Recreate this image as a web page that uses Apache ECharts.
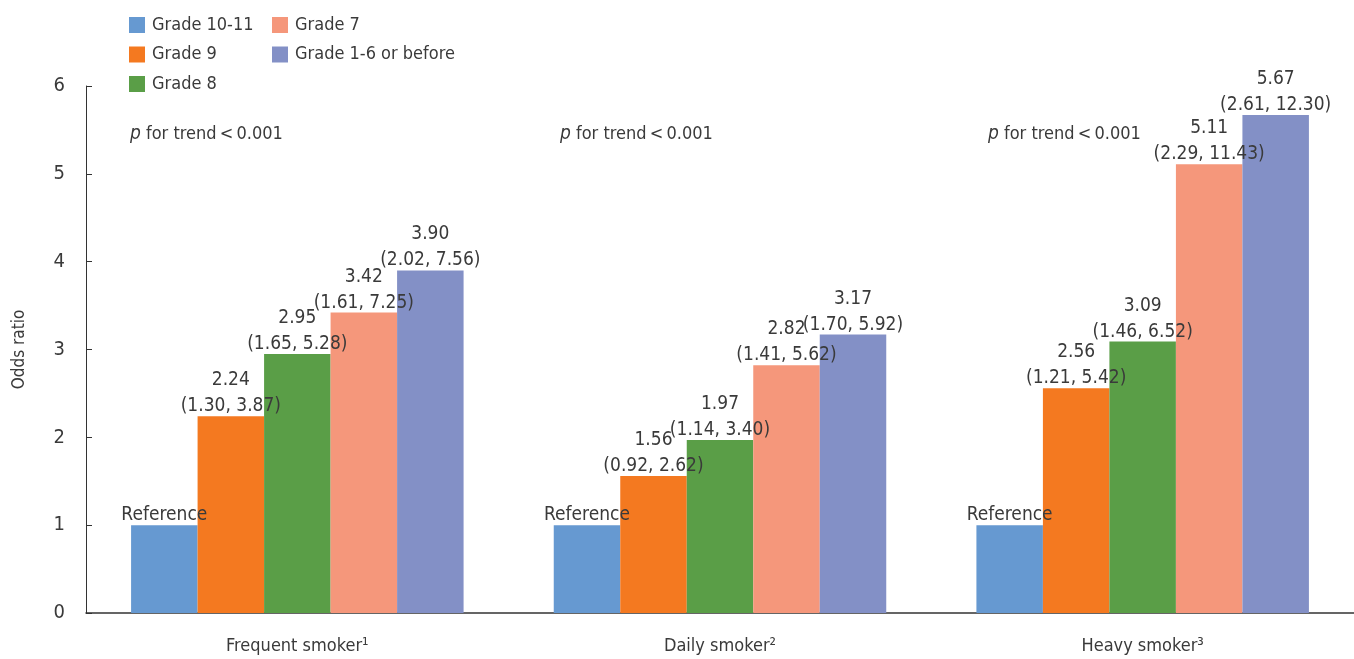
<!DOCTYPE html>
<html>
<head>
<meta charset="utf-8">
<script src="https://cdn.jsdelivr.net/npm/echarts@6/dist/echarts.min.js"></script>
<style>
  html, body { margin: 0; padding: 0; background: #fff; }
  #chart { width: 1354px; height: 659px; }
</style>
</head>
<body>
<div id="chart"></div>
<script>
const categories = ['Frequent smoker\u00b9', 'Daily smoker\u00b2', 'Heavy smoker\u00b3']
const seriesNames = ['Grade 10-11', 'Grade 9', 'Grade 8', 'Grade 7', 'Grade 1-6 or before']
const colors = ['#6699d1', '#f47920', '#5a9e47', '#f5977b', '#8390c6']

// odds ratios, one list per grade group (Grade 10-11 is the reference)
const grade1011 = [1, 1, 1]
const grade9 = [2.24, 1.56, 2.56]
const grade8 = [2.95, 1.97, 3.09]
const grade7 = [3.42, 2.82, 5.11]
const grade16 = [3.90, 3.17, 5.67]

// 95% confidence intervals
const lower9 = [1.30, 0.92, 1.21]
const upper9 = [3.87, 2.62, 5.42]
const lower8 = [1.65, 1.14, 1.46]
const upper8 = [5.28, 3.40, 6.52]
const lower7 = [1.61, 1.41, 2.29]
const upper7 = [7.25, 5.62, 11.43]
const lower16 = [2.02, 1.70, 2.61]
const upper16 = [7.56, 5.92, 12.30]

const yTicks = [0, 1, 2, 3, 4, 5, 6]
const trendNote = 'for trend\u2009<\u20090.001'

const FONT = '"Liberation Sans Narrow", "DejaVu Sans Condensed", sans-serif'
const TXT = '#3a3a3a'

const values = [grade1011, grade9, grade8, grade7, grade16]
const lowers = [null, lower9, lower8, lower7, lower16]
const uppers = [null, upper9, upper8, upper7, upper16]

const series = seriesNames.map(function (name, i) {
  return {
    name: name,
    type: 'bar',
    barWidth: 66.5,
    barGap: '0%',
    itemStyle: { color: colors[i] },
    label: {
      show: true,
      position: 'top',
      distance: 0,
      offset: [0, 3],
      color: TXT,
      fontFamily: FONT,
      fontSize: 19,
      lineHeight: 26,
      formatter: function (p) {
        if (i === 0) return 'Reference'
        return p.value.toFixed(2) + '\n(' + lowers[i][p.dataIndex].toFixed(2) + ', ' + uppers[i][p.dataIndex].toFixed(2) + ')'
      }
    },
    data: values[i]
  }
})

const legendBase = {
  orient: 'vertical',
  top: 11,
  itemWidth: 16,
  itemHeight: 16,
  itemGap: 11.5,
  icon: 'rect',
  textStyle: { fontFamily: FONT, fontSize: 18, color: TXT, padding: [0, 0, 0, 2] }
}

const chart = echarts.init(document.getElementById('chart'))
const option = {
  animation: false,
  color: colors,
  textStyle: { fontFamily: FONT, color: TXT },
  legend: [
    Object.assign({ data: seriesNames.slice(0, 3), left: 124 }, legendBase),
    Object.assign({ data: seriesNames.slice(3), left: 267 }, legendBase)
  ],
  grid: { left: 86, top: 86, width: 1276, height: 527 },
  xAxis: {
    type: 'category',
    data: categories,
    axisLine: { lineStyle: { color: '#333', width: 1.5 } },
    axisTick: { inside: true, length: 8, lineStyle: { color: '#333' } },
    axisLabel: { color: TXT, fontFamily: FONT, fontSize: 18, margin: 24 }
  },
  yAxis: {
    type: 'value',
    min: 0,
    max: 6,
    interval: 1,
    name: 'Odds ratio',
    nameLocation: 'middle',
    nameGap: 58,
    nameTextStyle: { color: TXT, fontFamily: FONT, fontSize: 17 },
    axisLine: { show: true, lineStyle: { color: '#333', width: 1 } },
    axisTick: { show: true, inside: true, length: 6, lineStyle: { color: '#333' } },
    axisLabel: {
      color: TXT, fontFamily: FONT, fontSize: 20, margin: 21,
      formatter: function (v) { return yTicks.indexOf(v) >= 0 ? String(v) : '' }
    },
    splitLine: { show: false }
  },
  graphic: [130, 560, 988].map(function (x) {
    return {
      type: 'text',
      left: x,
      top: 125,
      style: {
        text: '{i|p} ' + trendNote,
        fill: TXT,
        font: '18px ' + FONT,
        rich: {
          i: { fontStyle: 'italic', fontSize: 19, fontFamily: FONT, fill: TXT }
        }
      }
    }
  }),
  series: series
}
chart.setOption(option)
</script>
</body>
</html>
